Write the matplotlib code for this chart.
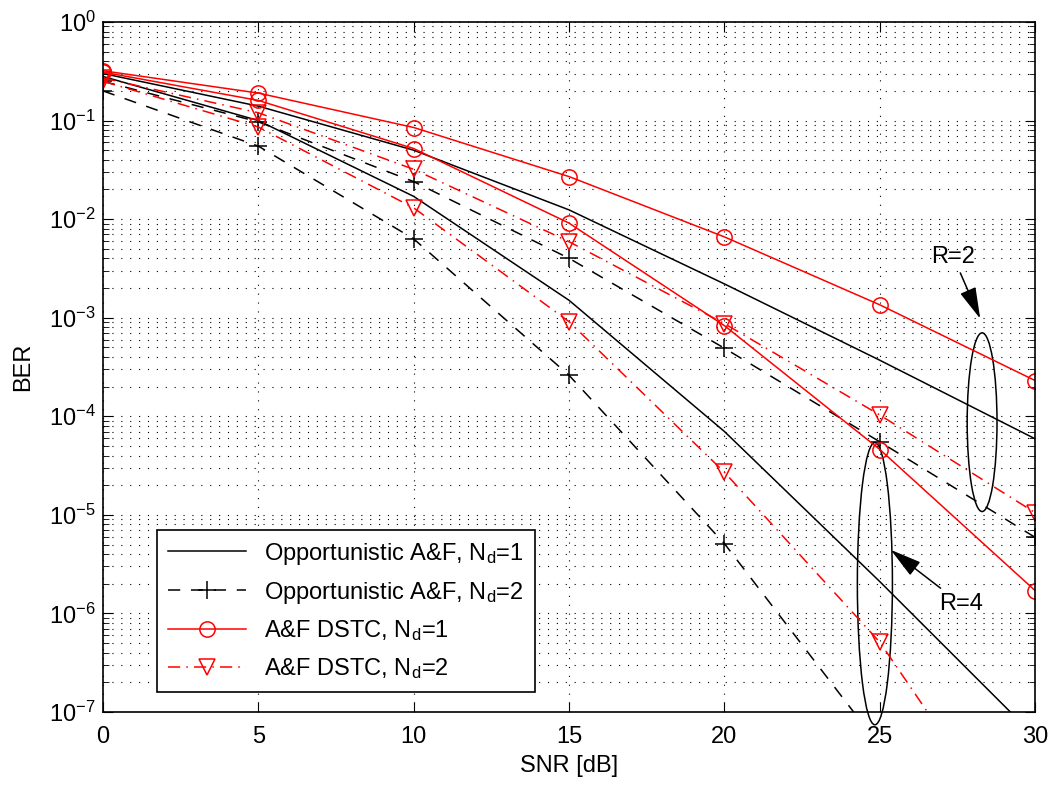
import matplotlib
matplotlib.use("Agg")
import matplotlib.pyplot as plt
from matplotlib.patches import Ellipse
import numpy as np

plt.rcParams["font.family"] = ["Liberation Sans", "DejaVu Sans"]
plt.rcParams["mathtext.default"] = "regular"

snr = [0, 5, 10, 15, 20, 25, 30]

# Opportunistic A&F, Nd=1 (no markers)
opp1_r2 = [0.30, 0.14, 0.050, 0.0124, 2.2e-3, 3.7e-4, 5.9e-5]
opp1_r4 = [0.28, 0.10, 0.017, 1.5e-3, 7.0e-5, 2.1e-6, 5.6e-8]
# Opportunistic A&F, Nd=2
opp2_r2 = [0.25, 0.097, 0.024, 0.0040, 4.9e-4, 5.5e-5, 5.9e-6]
opp2_r4 = [0.20, 0.055, 0.0063, 2.6e-4, 5.1e-6, 4.5e-8, 2e-10]
# A&F DSTC, Nd=1
dstc1_r2 = [0.32, 0.19, 0.085, 0.027, 0.0066, 1.35e-3, 2.3e-4]
dstc1_r4 = [0.31, 0.16, 0.052, 0.0091, 8.3e-4, 4.6e-5, 1.7e-6]
# A&F DSTC, Nd=2
dstc2_r2 = [0.27, 0.12, 0.032, 0.0059, 8.7e-4, 1.03e-4, 1.05e-5]
dstc2_r4 = [0.25, 0.086, 0.013, 9.1e-4, 2.7e-5, 5.1e-7, 2.5e-9]

fig = plt.figure(figsize=(10.54, 7.85), dpi=100)
ax = fig.add_axes([0.0977, 0.093, 0.8845, 0.879])

fs = 17
lw = 1.1

ax.plot(snr, opp1_r2, color="k", lw=lw, label=r"Opportunistic A&F, N$_d$=1")
ax.plot(snr, opp1_r4, color="k", lw=lw)

dash = (0, (8, 7))
ax.plot(snr, opp2_r2, color="k", lw=lw, ls=dash, marker="+", ms=13, mew=1.1,
        label=r"Opportunistic A&F, N$_d$=2")
ax.plot(snr, opp2_r4, color="k", lw=lw, ls=dash, marker="+", ms=13, mew=1.1)

ax.plot(snr, dstc1_r2, color="r", lw=lw, marker="o", ms=11, mfc="none", mew=1.1,
        label=r"A&F DSTC, N$_d$=1")
ax.plot(snr, dstc1_r4, color="r", lw=lw, marker="o", ms=11, mfc="none", mew=1.1)

dashdot = (0, (8, 4, 1, 4))
ax.plot(snr, dstc2_r2, color="r", lw=lw, ls=dashdot, marker="v", ms=12, mfc="none", mew=1.1,
        label=r"A&F DSTC, N$_d$=2")
ax.plot(snr, dstc2_r4, color="r", lw=lw, ls=dashdot, marker="v", ms=12, mfc="none", mew=1.1)

ax.set_yscale("log")
ax.set_xlim(0, 30)
ax.set_ylim(1e-7, 1)
ax.set_xticks(snr)
ax.set_yticks([10.0 ** k for k in range(-7, 1)])

ax.grid(True, which="major", axis="both", color="k", ls=(0, (1, 7)), lw=0.8)
ax.grid(True, which="minor", axis="y", color="k", ls=(0, (1, 7)), lw=0.8)
ax.set_axisbelow(True)

ax.tick_params(which="both", direction="in", top=True, right=True, labelsize=fs)
ax.tick_params(which="major", length=7)
ax.tick_params(which="minor", length=4)
ax.tick_params(axis="x", which="major", pad=10)
ax.tick_params(axis="y", which="major", pad=5)
for s in ax.spines.values():
    s.set_linewidth(1.2)

ax.set_xlabel("SNR [dB]", fontsize=fs, labelpad=5)
ax.set_ylabel("BER", fontsize=fs, labelpad=11)

leg = ax.legend(loc="lower left", bbox_to_anchor=(0.058, 0.029), borderaxespad=0,
                fontsize=fs, fancybox=False, edgecolor="k", framealpha=1,
                handlelength=3.3, labelspacing=0.55, borderpad=0.45)
leg.get_frame().set_linewidth(1.2)

# ellipses marking the two groups
ax.add_patch(Ellipse((0.943, 0.420), 0.032, 0.259, transform=ax.transAxes,
                     fill=False, ec="k", lw=1.1, clip_on=False))
ax.add_patch(Ellipse((0.828, 0.186), 0.0376, 0.409, transform=ax.transAxes,
                     fill=False, ec="k", lw=1.1, clip_on=False))

arrow = dict(arrowstyle="-|>,head_length=0.75,head_width=0.2", color="k", lw=1.1,
             mutation_scale=26, shrinkA=2, shrinkB=0)
ax.annotate("R=2", xy=(0.941, 0.570), xytext=(0.912, 0.660), textcoords="axes fraction",
            xycoords="axes fraction", fontsize=fs, ha="center", va="center",
            arrowprops=arrow)
ax.annotate("R=4", xy=(0.845, 0.235), xytext=(0.920, 0.157), textcoords="axes fraction",
            xycoords="axes fraction", fontsize=fs, ha="center", va="center",
            arrowprops=arrow)

fig.savefig("out.png", dpi=100)
